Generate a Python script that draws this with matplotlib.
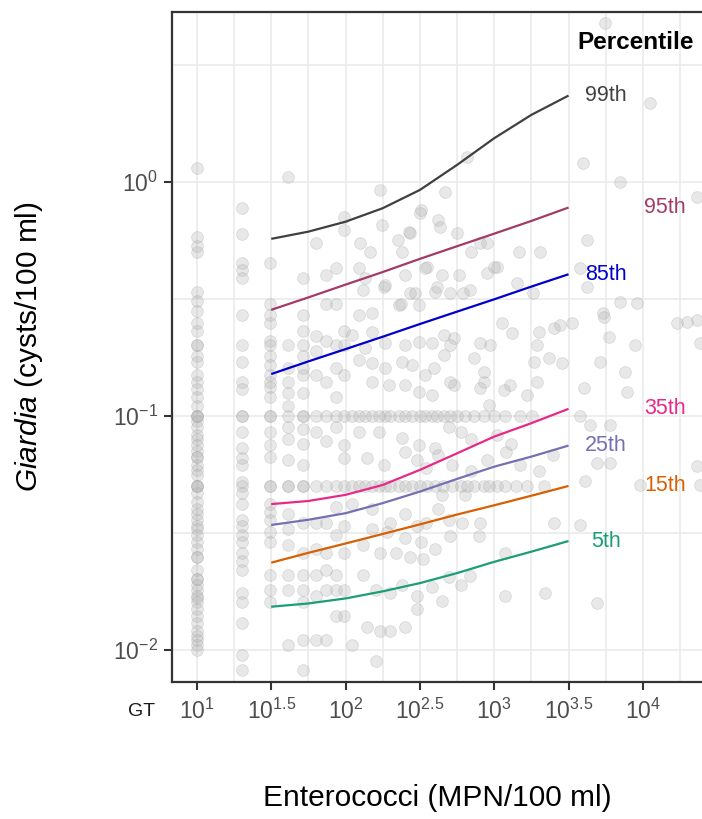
import matplotlib
matplotlib.use("Agg")
import matplotlib.pyplot as plt
from matplotlib.ticker import FixedLocator, NullFormatter

plt.rcParams['font.family'] = ['Liberation Sans', 'DejaVu Sans']
plt.rcParams['mathtext.fontset'] = 'custom'
plt.rcParams['mathtext.rm'] = 'Liberation Sans'
plt.rcParams['mathtext.it'] = 'Liberation Sans:italic'
plt.rcParams['mathtext.bf'] = 'Liberation Sans:bold'

# ---------------- data ----------------
# observed samples at the lowest MPN values (one list of Giardia per MPN column)
mpn_columns = [10, 20, 31, 41, 52, 63, 74, 86, 97]
column_giardia = [
    [1.15, 0.58, 0.53, 0.5, 0.34, 0.31, 0.28, 0.25, 0.23, 0.2, 0.2, 0.18, 0.17, 0.15, 0.14,
     0.13, 0.12, 0.11, 0.1, 0.1, 0.1, 0.095, 0.09, 0.083, 0.08, 0.075, 0.071, 0.067, 0.067,
     0.062, 0.059, 0.056, 0.05, 0.05, 0.05, 0.047, 0.043, 0.04, 0.038, 0.036, 0.034, 0.033,
     0.031, 0.029, 0.027, 0.025, 0.025, 0.022, 0.02, 0.02, 0.019, 0.018, 0.017, 0.0167, 0.016,
     0.015, 0.014, 0.013, 0.012, 0.0115, 0.011, 0.0105, 0.01],
    [0.77, 0.6, 0.45, 0.42, 0.39, 0.27, 0.2, 0.17, 0.14, 0.13, 0.1, 0.1, 0.085, 0.073, 0.066,
     0.062, 0.052, 0.05, 0.047, 0.042, 0.036, 0.034, 0.031, 0.029, 0.026, 0.024, 0.022, 0.0175,
     0.016, 0.013, 0.0095, 0.0082],
    [0.45, 0.3, 0.27, 0.25, 0.21, 0.2, 0.18, 0.165, 0.15, 0.14, 0.133, 0.12, 0.1, 0.1, 0.085,
     0.075, 0.067, 0.05, 0.05, 0.042, 0.039, 0.036, 0.032, 0.029, 0.021, 0.018, 0.016],
    [1.05, 0.2, 0.16, 0.14, 0.125, 0.11, 0.1, 0.09, 0.08, 0.065, 0.05, 0.05, 0.038, 0.033,
     0.028, 0.021, 0.018, 0.0105],
    [0.39, 0.27, 0.23, 0.2, 0.18, 0.16, 0.15, 0.125, 0.1, 0.1, 0.088, 0.076, 0.062, 0.05, 0.05,
     0.035, 0.026, 0.021, 0.018, 0.016, 0.011, 0.0082],
    [0.55, 0.22, 0.19, 0.15, 0.1, 0.085, 0.05, 0.035, 0.027, 0.021, 0.017, 0.011],
    [0.4, 0.3, 0.21, 0.14, 0.1, 0.078, 0.05, 0.035, 0.026, 0.022, 0.018, 0.011],
    [0.43, 0.3, 0.2, 0.16, 0.12, 0.1, 0.09, 0.05, 0.041, 0.031, 0.021, 0.018, 0.014],
    [0.71, 0.62, 0.23, 0.2, 0.15, 0.1, 0.075, 0.066, 0.05, 0.034, 0.026, 0.018, 0.014],
]

# observed samples above ~100 MPN
scatter_ent = [
    5560, 11200, 660, 3980, 7015, 170, 468, 23170,
    324, 316, 417, 430, 176, 271, 265, 563, 224, 797, 893, 146, 1468, 2040, 4207, 125, 700, 240,
    355, 1047, 3780, 446, 580, 893, 1000, 123, 135, 184, 251, 342, 688, 1423, 180, 130, 271, 293,
    412, 502, 617, 1820, 4207, 7015, 9138, 123, 151, 228, 312, 400, 237,
    5395, 5483, 17000, 19800, 23170, 24250, 1129, 1317, 2000, 2513, 2773, 3340, 1940, 2337, 5916,
    8853, 459, 537, 502, 459, 803, 936, 731, 110, 135, 151, 184, 251, 312, 381, 123, 151, 184,
    240, 280, 342, 393, 5148, 2858, 1853, 853, 4018, 7585, 7830, 1164, 1277, 1660, 1940,
    110, 123, 135, 151, 168, 184, 200, 228, 251, 280, 316, 342, 381, 412, 459, 502, 563, 636,
    731, 853, 1000, 1180, 1480, 1800,
    151, 195, 251, 312, 381, 502, 537, 853, 803, 923, 3780, 4413, 6010, 168, 240, 312, 400, 123,
    500, 600, 700, 1050, 1300,
    4901, 6010, 4083, 9560, 24250, 23170, 446, 636, 656, 731, 853, 923, 1047, 1180, 1400, 1660,
    2163, 110, 123, 135, 151, 168, 184, 200, 228, 251, 280, 316, 355, 400, 450, 520, 600,
    140, 180, 250, 300, 350, 420, 520, 700, 900, 1200, 1500, 2000, 2500,
    607, 803, 2513, 3780, 502, 790, 1182, 110, 150, 200, 250, 300, 350, 420, 500, 150, 190, 250,
    320, 400, 130, 170, 220, 270, 330,
    688, 2198, 1182, 4901, 446, 130, 160, 200, 240, 300, 380, 500, 600, 140, 170, 200, 250, 300,
    110, 160,
]
scatter_giardia = [
    4.78, 2.18, 1.28, 1.2, 1.0, 0.92, 0.906, 0.863,
    0.76, 0.74, 0.69, 0.642, 0.655, 0.605, 0.61, 0.605, 0.565, 0.55, 0.549, 0.5, 0.5, 0.5, 0.565,
    0.55, 0.5, 0.5,
    0.433, 0.433, 0.43, 0.4, 0.4, 0.408, 0.433, 0.43, 0.39, 0.363, 0.4, 0.43, 0.345, 0.37, 0.356,
    0.345, 0.336, 0.336, 0.356, 0.336, 0.336, 0.336, 0.356, 0.307, 0.304, 0.27, 0.275, 0.298,
    0.298, 0.339, 0.3,
    0.275, 0.265, 0.25, 0.252, 0.257, 0.205, 0.25, 0.226, 0.229, 0.238, 0.245, 0.25, 0.201, 0.177,
    0.218, 0.201, 0.222, 0.216, 0.201, 0.182, 0.205, 0.201, 0.177, 0.222, 0.195, 0.229, 0.205,
    0.201, 0.207, 0.205, 0.173, 0.168, 0.16, 0.17, 0.165, 0.15, 0.16, 0.17, 0.168, 0.17, 0.154,
    0.132, 0.154, 0.127, 0.129, 0.136, 0.123, 0.14,
    0.1, 0.1, 0.1, 0.1, 0.1, 0.1, 0.1, 0.1, 0.1, 0.1, 0.1, 0.1, 0.1, 0.1, 0.1, 0.1, 0.1, 0.1,
    0.1, 0.1, 0.1, 0.1, 0.1, 0.1,
    0.14, 0.136, 0.136, 0.127, 0.123, 0.14, 0.136, 0.14, 0.132, 0.111, 0.1, 0.0916, 0.0916,
    0.0855, 0.0805, 0.075, 0.073, 0.0855, 0.09, 0.085, 0.08, 0.083, 0.076,
    0.063, 0.063, 0.0527, 0.0507, 0.0507, 0.061, 0.046, 0.046, 0.05, 0.05, 0.05, 0.05, 0.05,
    0.05, 0.05, 0.05, 0.05, 0.05, 0.05, 0.05, 0.05, 0.05, 0.05, 0.05, 0.05, 0.05, 0.05, 0.05,
    0.05, 0.05, 0.05, 0.05, 0.05,
    0.066, 0.062, 0.07, 0.065, 0.06, 0.068, 0.062, 0.058, 0.065, 0.07, 0.062, 0.058, 0.068,
    0.0349, 0.0349, 0.0349, 0.0342, 0.0307, 0.0307, 0.026, 0.042, 0.04, 0.035, 0.038, 0.034,
    0.035, 0.04, 0.036, 0.033, 0.032, 0.03, 0.029, 0.027, 0.028, 0.026, 0.026, 0.025, 0.0245,
    0.0207, 0.0175, 0.017, 0.0159, 0.0162, 0.021, 0.018, 0.0175, 0.019, 0.017, 0.0185, 0.0205,
    0.019, 0.0125, 0.012, 0.012, 0.0125, 0.015, 0.0105, 0.009,
]

# fitted percentile curves
curve_ent = [31.6, 56.2, 100, 177.8, 316.2, 562.3, 1000, 1778, 3162]
p99 = [0.571, 0.613, 0.676, 0.772, 0.924, 1.182, 1.537, 1.934, 2.338]
p95 = [0.284, 0.321, 0.364, 0.412, 0.469, 0.531, 0.601, 0.681, 0.777]
p85 = [0.151, 0.171, 0.193, 0.218, 0.247, 0.279, 0.315, 0.357, 0.403]
p35 = [0.0420, 0.0433, 0.0460, 0.0507, 0.0588, 0.0692, 0.0816, 0.0931, 0.1072]
p25 = [0.0342, 0.0360, 0.0384, 0.0424, 0.0475, 0.0538, 0.0607, 0.0670, 0.0747]
p15 = [0.0236, 0.0260, 0.0285, 0.0313, 0.0344, 0.0379, 0.0415, 0.0456, 0.0502]
p05 = [0.0153, 0.0158, 0.0166, 0.0178, 0.0193, 0.0213, 0.0238, 0.0263, 0.0292]

percentile_labels = ['99th', '95th', '85th', '35th', '25th', '15th', '5th']
percentile_series = [p99, p95, p85, p35, p25, p15, p05]
percentile_colors = ['#404040', '#A23B66', '#0000CD', '#E7298A', '#7570B3', '#D95F02', '#1B9E77']

x_ticks = [10, 10**1.5, 100, 10**2.5, 1000, 10**3.5, 10000]
x_ticklabels = ['$10^{1}$', '$10^{1.5}$', '$10^{2}$', '$10^{2.5}$', '$10^{3}$', '$10^{3.5}$', '$10^{4}$']
y_ticks = [0.01, 0.1, 1]
y_ticklabels = ['$10^{-2}$', '$10^{-1}$', '$10^{0}$']

# ---------------- plot ----------------
fig = plt.figure(figsize=(7.02, 8.19), dpi=100)
ax = fig.add_axes([172/702, 1 - 682/819, 530/702, 670/819])
ax.set_xscale('log')
ax.set_yscale('log')
ax.set_xlim(10**0.832, 10**4.398)
ax.set_ylim(10**-2.137, 10**0.726)

# grey sample points
for xv, ys in zip(mpn_columns, column_giardia):
    ax.scatter([xv] * len(ys), ys, s=72, color='#B3B3B3', alpha=0.3, edgecolors='#A0A0A0',
               linewidths=0.6, zorder=2)
ax.scatter(scatter_ent, scatter_giardia, s=72, color='#B3B3B3', alpha=0.3, edgecolors='#A0A0A0',
           linewidths=0.6, zorder=2)

near_x = 10**3.75
far_x = 10**4.15
for lab, ys, c in zip(percentile_labels, percentile_series, percentile_colors):
    ax.plot(curve_ent, ys, color=c, lw=1.6, zorder=3, solid_capstyle='butt',
            solid_joinstyle='round')
    tx = near_x if lab in ('99th', '85th', '25th', '5th') else far_x
    ax.text(tx, ys[-1], lab, color=c, fontsize=15.5, ha='center', va='center', zorder=4)

ax.text(10**3.95, 10**0.594, 'Percentile', fontsize=17.5, fontweight='bold', color='black',
        ha='center', va='center')

# ticks & grid
ax.xaxis.set_major_locator(FixedLocator(x_ticks))
ax.set_xticklabels(x_ticklabels)
ax.xaxis.set_minor_locator(FixedLocator([10**1.25, 10**1.75, 10**2.25, 10**2.75, 10**3.25,
                                         10**3.75, 10**4.25]))
ax.xaxis.set_minor_formatter(NullFormatter())
ax.yaxis.set_major_locator(FixedLocator(y_ticks))
ax.set_yticklabels(y_ticklabels)
ax.yaxis.set_minor_locator(FixedLocator([10**-1.5, 10**-0.5, 10**0.5]))
ax.yaxis.set_minor_formatter(NullFormatter())

ax.grid(which='both', color='#EBEBEB', lw=1.2, zorder=0)
ax.set_axisbelow(True)
ax.tick_params(which='major', length=6, width=1.5, color='#333333', labelcolor='#4D4D4D',
               labelsize=16.5)
ax.tick_params(axis='x', which='major', pad=6)
ax.tick_params(axis='y', which='major', pad=4)
ax.tick_params(which='minor', length=0)

for side in ['left', 'bottom', 'top']:
    ax.spines[side].set_color('#333333')
    ax.spines[side].set_linewidth(1.6)
ax.spines['right'].set_visible(False)

ax.set_xlabel('Enterococci (MPN/100 ml)', fontsize=21.5, color='black', va='center')
ax.xaxis.set_label_coords(0.5, -0.173)
ax.set_ylabel(r'$\it{Giardia}$ (cysts/100 ml)', fontsize=21.5, color='black', va='center')
ax.yaxis.set_label_coords(-0.269, 0.5)

fig.text(142/702, 1 - 712/819, 'GT', fontsize=14, color='#1A1A1A', ha='center', va='center')

fig.savefig('out.png', dpi=100)
